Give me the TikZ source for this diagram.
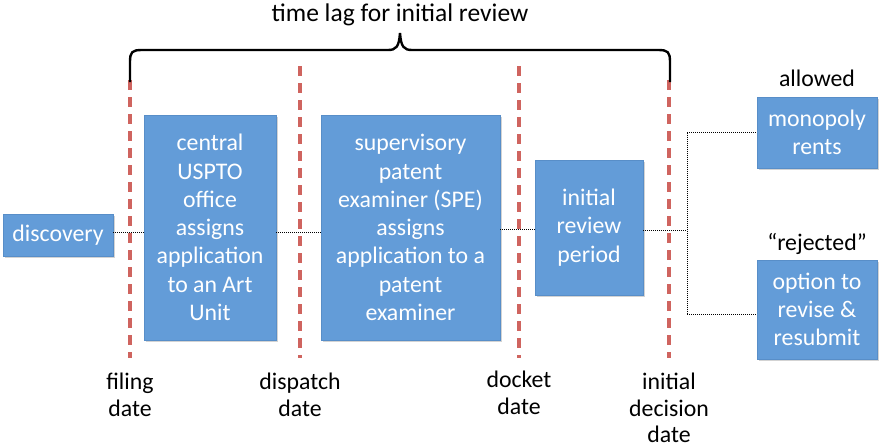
\documentclass[tikz,border=0pt]{standalone}
\usepackage{fontspec}
\setmainfont{Carlito}
\usetikzlibrary{shadows,calc}
\definecolor{boxblue}{RGB}{99,156,216}
\definecolor{boxedge}{RGB}{88,142,200}
\definecolor{dashred}{RGB}{207,100,95}
\tikzset{
  bluebox/.style={draw=boxedge, line width=0.6pt, fill=boxblue, text=white, align=center,
    inner sep=0pt, font=\fontsize{23.8}{28.3}\selectfont,
    drop shadow={opacity=0.35, shadow xshift=1.5pt, shadow yshift=-1.5pt}},
  dotconn/.style={black, line width=0.8pt, dash pattern=on 1pt off 1pt},
  datemark/.style={dashred, line width=3.2pt, dash pattern=on 10pt off 7pt},
  lbl/.style={black, align=center, inner sep=0pt, font=\fontsize{23.8}{26.5}\selectfont}
}
\begin{document}
\begin{tikzpicture}[x=1pt, y=-1pt]
\useasboundingbox (0,0) rectangle (879,447);
% date markers
\coordinate (f1) at (130,80); \coordinate (f2) at (130,358);
\coordinate (d1) at (300,66); \coordinate (d2) at (300,358);
\coordinate (k1) at (519,66); \coordinate (k2) at (519,358);
\coordinate (i1) at (669,80); \coordinate (i2) at (669,358);
\draw[datemark] (f1) -- (f2);
\draw[datemark] (d1) -- (d2);
\draw[datemark] (k1) -- (k2);
\draw[datemark] (i1) -- (i2);
% brace
\draw[black, line width=2.4pt, line cap=butt]
  (130,82) -- (130,62) .. controls (130,52) and (132,50) .. (142,50)
  -- (388,50) .. controls (396,50) and (399,47) .. (400,33)
  .. controls (401,47) and (404,50) .. (412,50)
  -- (658,50) .. controls (668,50) and (670,52) .. (670,62) -- (670,82);
\node[lbl, font=\fontsize{25.5}{28}\selectfont] (title) at (400,15) {time lag for initial review};
% boxes
\node[bluebox, minimum width=110pt, minimum height=42pt] (disc) at (58,235) {discovery};
\node[bluebox, minimum width=132pt, minimum height=225pt] (central) at (210,227.5)
  {central\\USPTO\\office\\assigns\\application\\to an Art\\Unit};
\node[bluebox, minimum width=179pt, minimum height=225pt] (spe) at (410.5,227.5)
  {supervisory\\patent\\examiner (SPE)\\assigns\\application to a\\patent\\examiner};
\node[bluebox, minimum width=108pt, minimum height=135pt] (init) at (589,227.5)
  {initial\\review\\period};
\node[bluebox, minimum width=120pt, minimum height=71pt] (mono) at (817,132.5)
  {monopoly\\rents};
\node[bluebox, minimum width=120pt, minimum height=99pt] (opt) at (817,309.5)
  {option to\\revise \&\\resubmit};
% outcome labels
\node[lbl] (allowed) at (817,78) {allowed};
\node[lbl] (rejected) at (817,244) {“rejected”};
% connectors
\draw[dotconn] ($(disc.east)+(0,-3)$) -- ($(disc.east -| central.west)+(0,-3)$);
\draw[dotconn] ($(central.east)+(0,5)$) -- ($(central.east -| spe.west)+(0,5)$);
\draw[dotconn] ($(spe.east)+(0,1.5)$) -- ($(spe.east -| init.west)+(0,1.5)$);
\coordinate (br) at (687,230);
\draw[dotconn] (init.east |- br) -- (br);
\draw[dotconn] (br |- mono.west) -- ($(br |- opt.west)+(0,4.5)$);
\draw[dotconn] (br |- mono.west) -- (mono.west);
\draw[dotconn] ($(br |- opt.west)+(0,4.5)$) -- ($(opt.west)+(0,4.5)$);
% date labels
\node[lbl, anchor=north] (fl) at (130,373) {filing\\date};
\node[lbl, anchor=north] (dl) at (300,373) {dispatch\\date};
\node[lbl, anchor=north] (kl) at (519,371) {docket\\date};
\node[lbl, anchor=north] (il) at (669,373) {initial\\decision\\date};
\end{tikzpicture}
\end{document}
